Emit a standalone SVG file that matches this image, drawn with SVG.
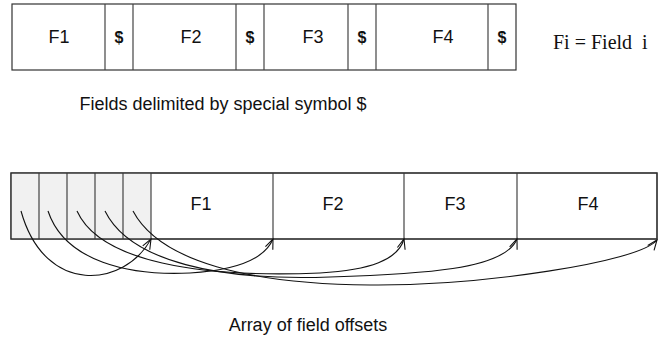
<svg xmlns="http://www.w3.org/2000/svg" width="662" height="347" viewBox="0 0 662 347">
<defs>
<style>
.box{fill:#fff;stroke:#333;stroke-width:1.2}
.div{stroke:#444;stroke-width:1.2}
.gray{fill:#f1f1f1;stroke:none}
.lbl{font-family:"Liberation Sans",Arial,sans-serif;font-size:18px;fill:#111;text-anchor:middle}
.dol{font-family:"Liberation Sans",Arial,sans-serif;font-size:16px;font-weight:bold;fill:#111;text-anchor:middle}
.cap{font-family:"Liberation Sans",Arial,sans-serif;font-size:18px;fill:#111;text-anchor:middle}
.ser{font-family:"Liberation Serif","Times New Roman",serif;font-size:20px;fill:#111}
.cv{fill:none;stroke:#111;stroke-width:1.1;marker-end:url(#ah)}
</style>
<marker id="ah" markerWidth="14" markerHeight="12" refX="0" refY="0" viewBox="-12 -6 14 12" orient="auto" markerUnits="userSpaceOnUse">
<path d="M-10,-4 L0,0 L-10,4" fill="none" stroke="#111" stroke-width="1.1"/>
</marker>
</defs>

<g id="record-delimited">
<rect class="box" x="12" y="4" width="504" height="66"/>
<line class="div" x1="105" y1="4" x2="105" y2="70"/>
<line class="div" x1="133" y1="4" x2="133" y2="70"/>
<line class="div" x1="236" y1="4" x2="236" y2="70"/>
<line class="div" x1="264" y1="4" x2="264" y2="70"/>
<line class="div" x1="348" y1="4" x2="348" y2="70"/>
<line class="div" x1="376" y1="4" x2="376" y2="70"/>
<line class="div" x1="488" y1="4" x2="488" y2="70"/>
<text class="lbl" x="59" y="43">F1</text>
<text class="dol" x="119" y="43">$</text>
<text class="lbl" x="191" y="43">F2</text>
<text class="dol" x="250" y="43">$</text>
<text class="lbl" x="313" y="43">F3</text>
<text class="dol" x="362" y="43">$</text>
<text class="lbl" x="443" y="43">F4</text>
<text class="dol" x="502" y="43">$</text>
</g>

<g id="legend">
<text class="ser" x="553" y="49" xml:space="preserve">Fi = Field  i</text>
</g>

<g id="caption-top">
<text class="cap" x="223" y="110">Fields delimited by special symbol $</text>
</g>

<g id="record-offsets">
<rect class="box" x="11" y="173" width="646" height="66"/>
<rect class="gray" x="11.6" y="173.6" width="139.4" height="64.8"/>
<line class="div" x1="39" y1="173" x2="39" y2="239"/>
<line class="div" x1="67" y1="173" x2="67" y2="239"/>
<line class="div" x1="95" y1="173" x2="95" y2="239"/>
<line class="div" x1="123" y1="173" x2="123" y2="239"/>
<line class="div" x1="151" y1="173" x2="151" y2="239"/>
<line class="div" x1="273" y1="173" x2="273" y2="239"/>
<line class="div" x1="404" y1="173" x2="404" y2="239"/>
<line class="div" x1="517" y1="173" x2="517" y2="239"/>
<rect x="11" y="173" width="646" height="66" fill="none" stroke="#333" stroke-width="1.2"/>
<text class="lbl" x="201" y="210">F1</text>
<text class="lbl" x="333" y="210">F2</text>
<text class="lbl" x="455" y="210">F3</text>
<text class="lbl" x="588" y="210">F4</text>
</g>

<g id="connectors">
<path class="cv" d="M21,211 C45,297 125,287 151,239"/>
<path class="cv" d="M48,211 C65,262 130,276 190,273 C240,270 265,258 273,239"/>
<path class="cv" d="M77,211 C100,262 200,278 320,273 C370,270 398,260 404,239"/>
<path class="cv" d="M105,211 C130,262 220,281 330,277 C420,274 505,270 517,239"/>
<path class="cv" d="M133,211 C160,262 250,284 370,285 C480,286 640,262 657,240"/>
</g>

<g id="caption-bottom">
<text class="cap" x="308" y="331">Array of field offsets</text>
</g>
</svg>
